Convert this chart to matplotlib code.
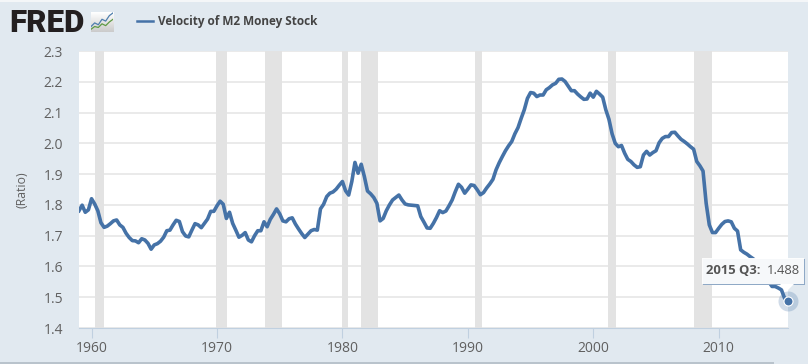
import numpy as np
import matplotlib
matplotlib.use('Agg')
import matplotlib.pyplot as plt
from matplotlib.patches import Rectangle, Polygon

plt.rcParams['font.family'] = ['Open Sans', 'DejaVu Sans']

# quarterly values, 1959 Q1 to 2015 Q3
start_year = 1959
velocity = [
    1.781, 1.799, 1.776, 1.784,  # 1959
    1.820, 1.803, 1.781, 1.742,
    1.727, 1.731, 1.739, 1.748,
    1.751, 1.735, 1.727, 1.708,
    1.694, 1.684, 1.683, 1.677,
    1.690, 1.686, 1.675, 1.656,
    1.670, 1.674, 1.682, 1.695,
    1.716, 1.718, 1.735, 1.750,
    1.746, 1.713, 1.699, 1.696,
    1.718, 1.739, 1.735, 1.726,
    1.740, 1.754, 1.779, 1.779,  # 1969
    1.797, 1.812, 1.802, 1.756,
    1.776, 1.740, 1.718, 1.695,
    1.701, 1.710, 1.686, 1.680,
    1.700, 1.716, 1.716, 1.745,
    1.729, 1.753, 1.769, 1.787,
    1.771, 1.748, 1.745, 1.755,
    1.758, 1.738, 1.722, 1.707,
    1.694, 1.705, 1.716, 1.720,
    1.718, 1.787, 1.802, 1.827,
    1.838, 1.842, 1.851, 1.864,  # 1979
    1.876, 1.846, 1.832, 1.876,
    1.938, 1.903, 1.932, 1.892,
    1.845, 1.836, 1.824, 1.805,
    1.748, 1.756, 1.781, 1.800,
    1.816, 1.824, 1.832, 1.816,
    1.803, 1.800, 1.799, 1.798,
    1.797, 1.762, 1.744, 1.725,
    1.724, 1.740, 1.759, 1.781,
    1.775, 1.780, 1.797, 1.816,
    1.843, 1.867, 1.857, 1.838,  # 1989
    1.851, 1.865, 1.863, 1.849,
    1.833, 1.840, 1.855, 1.868,
    1.883, 1.914, 1.937, 1.957,
    1.976, 1.992, 2.006, 2.031,
    2.051, 2.081, 2.109, 2.146,
    2.165, 2.163, 2.152, 2.157,
    2.157, 2.174, 2.181, 2.190,
    2.195, 2.208, 2.209, 2.201,
    2.186, 2.171, 2.171, 2.160,
    2.151, 2.143, 2.144, 2.163,  # 1999
    2.150, 2.169, 2.160, 2.150,
    2.109, 2.078, 2.031, 2.000,
    1.989, 1.993, 1.968, 1.948,
    1.941, 1.930, 1.922, 1.924,
    1.962, 1.974, 1.962, 1.970,
    1.976, 2.002, 2.016, 2.022,
    2.022, 2.035, 2.036, 2.024,
    2.013, 2.006, 1.998, 1.989,
    1.981, 1.941, 1.927, 1.910,
    1.805, 1.735, 1.710, 1.710,  # 2009
    1.724, 1.737, 1.746, 1.748,
    1.745, 1.724, 1.715, 1.654,
    1.646, 1.640, 1.632, 1.625,
    1.612, 1.600, 1.590, 1.575,
    1.550, 1.535, 1.535, 1.530,
    1.524, 1.497, 1.488,
]
rec_start = [1960.25, 1969.95, 1973.85, 1980.0, 1981.5, 1990.55, 2001.2, 2008.0]
rec_end = [1961.0, 1970.8, 1975.15, 1980.45, 1982.8, 1991.15, 2001.8, 2009.45]
y_ticks = [1.4, 1.5, 1.6, 1.7, 1.8, 1.9, 2.0, 2.1, 2.2, 2.3]
x_ticks = [1960, 1970, 1980, 1990, 2000, 2010]

BG = '#E1E9F0'
LINE = '#4572A7'
W, H = 808, 364

years = start_year + np.arange(len(velocity)) * 0.25

fig = plt.figure(figsize=(W / 100, H / 100), dpi=100, facecolor=BG)
ax = fig.add_axes([79 / W, 1 - 328 / H, 708.7 / W, 277 / H])
ax.set_xlim(years[0], years[-1])
ax.set_ylim(1.4, 2.3)

for a, b in zip(rec_start, rec_end):
    ax.axvspan(a, b, color='#E3E3E3', lw=0, zorder=1)
ax.set_yticks(y_ticks)
ax.set_xticks(x_ticks)
ax.set_yticklabels(['%.1f' % v for v in y_ticks])
ax.grid(axis='y', color='#E6E6E6', lw=1.2, zorder=2)
ax.set_axisbelow(True)
ax.tick_params(axis='y', length=0, pad=11.5, labelsize=10, labelcolor='#606060')
ax.tick_params(axis='x', length=7, width=0.8, color='#C0D0E0', pad=2, labelsize=10, labelcolor='#606060')
for s in ['top', 'left', 'right']:
    ax.spines[s].set_visible(False)
ax.spines['bottom'].set_color('#C0D0E0')

ax.plot(years, velocity, color=LINE, lw=2.6, solid_joinstyle='round', zorder=3)

# last point with halo
ax.plot(years[-1], velocity[-1], 'o', ms=14.4, color=LINE, alpha=0.25, mew=0, zorder=4, clip_on=False)
ax.plot(years[-1], velocity[-1], 'o', ms=6.5, color=LINE, mec='white', mew=0.8, zorder=5, clip_on=False)

fig.text(22 / W, 1 - 190 / H, '(Ratio)', rotation=90, ha='center', va='center', fontsize=8.8, color='#606060')

# tooltip, pixel coordinates of the figure
def fx(px):
    return px / W

def fy(py):
    return 1 - py / H

fig.add_artist(Rectangle((fx(703), fy(285)), 102 / W, 26 / H, transform=fig.transFigure,
                         fc='#8FA9C6', ec='none', zorder=9))
fig.add_artist(Rectangle((fx(702), fy(284)), 102 / W, 26 / H, transform=fig.transFigure,
                         fc='white', alpha=0.93, ec='none', zorder=10))
fig.add_artist(Polygon([(fx(780), fy(284)), (fx(794), fy(284)), (fx(787), fy(291))],
                       transform=fig.transFigure, fc='white', ec='none', zorder=10))
fig.text(fx(706.5), fy(271), '2015 Q3:', fontsize=9.4, fontweight='bold', color='#555555',
         ha='left', va='center', zorder=11)
fig.text(fx(767), fy(271), '1.488', fontsize=9.4, color='#555555', ha='left', va='center', zorder=11)

# header
fig.text(fx(9), fy(32), 'FRED', fontsize=22.5, fontweight=900, family=['Roboto', 'DejaVu Sans'],
         color='#231F20', ha='left', va='baseline')
fig.add_artist(plt.Line2D([fx(137), fx(153)], [fy(21), fy(21)], color=LINE, lw=1.8))
fig.text(fx(158), fy(21), 'Velocity of M2 Money Stock', fontsize=8.5, fontweight='bold',
         color='#444444', ha='left', va='center')

# little logo chart next to FRED
logo = fig.add_axes([91 / W, 1 - 32 / H, 22 / W, 20 / H])
logo.imshow(np.linspace(1, 0.8, 20).reshape(-1, 1), cmap='gray', vmin=0, vmax=1, aspect='auto',
            extent=[0, 6, 0, 11], zorder=0)
logo.plot([0, 1, 2, 3, 4, 5, 6], [3, 5, 4, 7, 6, 9, 10.5], color='#4F7FAE', lw=0.9)
logo.plot([0, 1, 2, 3, 4, 5, 6], [1.5, 3, 2.5, 4.5, 3.5, 5.5, 7], color='#5F9A45', lw=0.9)
logo.set_xlim(0, 6)
logo.set_ylim(0, 11)
logo.set_xticks([])
logo.set_yticks([])
for s in logo.spines.values():
    s.set_visible(False)

# thin strips at the edges of the page
fig.add_artist(Rectangle((0, fy(1.5)), 1, 1.5 / H, transform=fig.transFigure, fc='#F4F6F8', ec='none'))
fig.add_artist(Rectangle((0, 0), 774 / W, 2 / H, transform=fig.transFigure, fc='#B9C3CC', ec='none'))

fig.savefig('out.png', dpi=100, facecolor=BG)
